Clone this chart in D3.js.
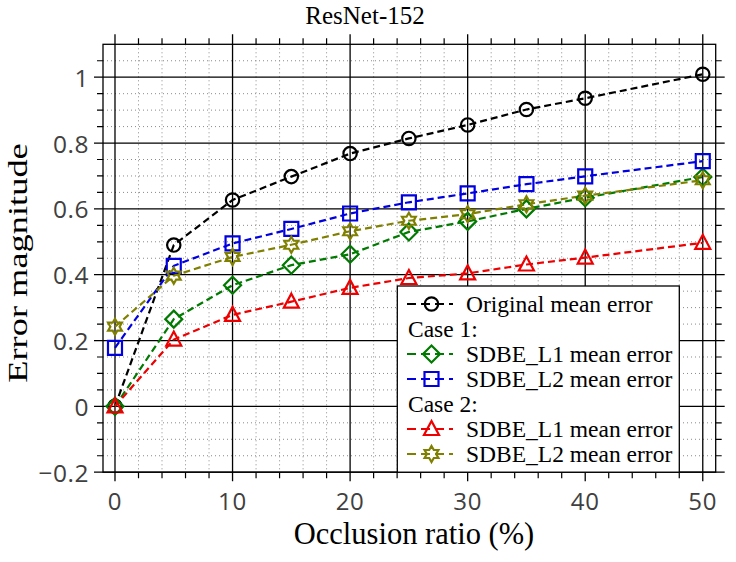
<!DOCTYPE html>
<html><head><meta charset="utf-8">
<script src="https://cdn.jsdelivr.net/npm/d3@7"></script>
<style>body{margin:0;background:#fff}svg{display:block}</style>
</head><body>
<svg id="c" width="736" height="562"></svg>
<script>
const xValues = [0, 5, 10, 15, 20, 25, 30, 35, 40, 50];
const originalMean = [0, 0.49, 0.627, 0.698, 0.768, 0.814, 0.855, 0.902, 0.936, 1.009];
const case1L1 = [0, 0.265, 0.368, 0.429, 0.462, 0.530, 0.562, 0.600, 0.634, 0.697];
const case1L2 = [0.178, 0.427, 0.495, 0.539, 0.586, 0.620, 0.647, 0.675, 0.699, 0.745];
const case2L1 = [0, 0.203, 0.278, 0.318, 0.360, 0.390, 0.404, 0.431, 0.452, 0.497];
const case2L2 = [0.242, 0.397, 0.454, 0.491, 0.532, 0.564, 0.584, 0.614, 0.640, 0.687];
const xTicks = [0, 10, 20, 30, 40, 50];
const yTicks = [-0.2, 0, 0.2, 0.4, 0.6, 0.8, 1];
const xMinor = [2,4,6,8,12,14,16,18,22,24,26,28,32,34,36,38,42,44,46,48];
const yMinor = [-0.15,-0.1,-0.05,0.05,0.1,0.15,0.25,0.3,0.35,0.45,0.5,0.55,0.65,0.7,0.75,0.85,0.9,0.95,1.05];

const series = [
  {name: "Original mean error", values: originalMean, color: "#000000", marker: "circle"},
  {name: "SDBE_L1 mean error", values: case1L1, color: "#007a00", marker: "diamond"},
  {name: "SDBE_L2 mean error", values: case1L2, color: "#0000e0", marker: "square"},
  {name: "SDBE_L1 mean error", values: case2L1, color: "#ee0000", marker: "triangle"},
  {name: "SDBE_L2 mean error", values: case2L2, color: "#808000", marker: "hexagram"}
];
const legendRows = [
  {series: 0}, {label: "Case 1:"}, {series: 1}, {series: 2}, {label: "Case 2:"}, {series: 3}, {series: 4}
];

const svg = d3.select("#c");
const L = 103, R = 715.7, T = 44.3, B = 472.2;
const x = d3.scaleLinear().domain([-1.02, 51.1]).range([L, R]);
const y = d3.scaleLinear().domain([-0.2, 1.1]).range([B, T]);

const serif = "'Liberation Serif', 'Times New Roman', serif";
const sans = "'Open Sans', 'DejaVu Sans', sans-serif";

// minor dotted grid
const g = svg.append("g");
g.selectAll(".vmin").data(xMinor).enter().append("line")
  .attr("x1", d => x(d)).attr("x2", d => x(d)).attr("y1", T).attr("y2", B)
  .attr("stroke", "#8a8a8a").attr("stroke-width", 1).attr("stroke-dasharray", "1,3");
g.selectAll(".hmin").data(yMinor).enter().append("line")
  .attr("y1", d => y(d)).attr("y2", d => y(d)).attr("x1", L).attr("x2", R)
  .attr("stroke", "#8a8a8a").attr("stroke-width", 1).attr("stroke-dasharray", "1,3");
// minor ticks outside
g.selectAll(".vmt").data(xMinor).enter().append("path")
  .attr("d", d => `M${x(d)},${T}v-6M${x(d)},${B}v6`).attr("stroke", "#000").attr("stroke-width", 1.2);
g.selectAll(".hmt").data(yMinor).enter().append("path")
  .attr("d", d => `M${L},${y(d)}h-6M${R},${y(d)}h6`).attr("stroke", "#000").attr("stroke-width", 1.2);
// major grid lines extending past the frame
g.selectAll(".vmaj").data(xTicks).enter().append("line")
  .attr("x1", d => x(d)).attr("x2", d => x(d)).attr("y1", T - 10).attr("y2", B + 9)
  .attr("stroke", "#000").attr("stroke-width", 1.3);
g.selectAll(".hmaj").data(yTicks).enter().append("line")
  .attr("y1", d => y(d)).attr("y2", d => y(d)).attr("x1", L - 9).attr("x2", R + 9)
  .attr("stroke", "#000").attr("stroke-width", 1.3);
// frame
svg.append("rect").attr("x", L).attr("y", T).attr("width", R - L).attr("height", B - T)
  .attr("fill", "none").attr("stroke", "#000").attr("stroke-width", 1.3);

// tick labels
svg.selectAll(".xl").data(xTicks).enter().append("text")
  .attr("x", d => x(d)).attr("y", 510).attr("text-anchor", "middle")
  .attr("font-family", sans).attr("font-size", 24).attr("letter-spacing", 0.7).attr("fill", "#404040")
  .text(d => d);
svg.selectAll(".yl").data(yTicks).enter().append("text")
  .attr("x", 89).attr("y", d => y(d) + 9.5).attr("text-anchor", "end")
  .attr("font-family", sans).attr("font-size", 24.5).attr("letter-spacing", 0.5).attr("fill", "#404040")
  .text(d => d < 0 ? "\u2212" + Math.abs(d) : d);

// titles
svg.append("text").attr("x", 365).attr("y", 23.5).attr("text-anchor", "middle")
  .attr("font-family", serif).attr("font-size", 25).text("ResNet-152");
svg.append("text").attr("x", 414).attr("y", 544).attr("text-anchor", "middle")
  .attr("font-family", serif).attr("font-size", 30.5).text("Occlusion ratio (%)");
svg.append("text").attr("transform", "translate(27,263) rotate(-90) scale(1.3,1)").attr("text-anchor", "middle")
  .attr("font-family", serif).attr("font-size", 28).text("Error magnitude");

// markers
function markerPath(type) {
  if (type === "circle") return d3.symbol(d3.symbolCircle, 140)();
  if (type === "square") return "M-7,-7H7V7H-7Z";
  if (type === "diamond") return "M0,-8.5L8.5,0L0,8.5L-8.5,0Z";
  if (type === "triangle") return "M0,-8L7.5,6H-7.5Z";
  if (type === "hexagram") {
    const pts = [];
    for (let i = 0; i < 12; i++) {
      const a = -Math.PI / 2 + i * Math.PI / 6;
      const r = i % 2 === 0 ? 8 : 8 / Math.sqrt(3);
      pts.push([r * Math.cos(a), r * Math.sin(a)]);
    }
    return "M" + pts.map(p => p.join(",")).join("L") + "Z";
  }
}

const line = d3.line().x((d, i) => x(xValues[i])).y(d => y(d));
const plot = svg.append("g");
series.forEach(s => {
  plot.append("path").attr("d", line(s.values)).attr("fill", "none")
    .attr("stroke", s.color).attr("stroke-width", 2.2).attr("stroke-dasharray", "7,4");
});
series.forEach(s => {
  plot.selectAll(null).data(s.values).enter().append("path")
    .attr("transform", (d, i) => `translate(${x(xValues[i])},${y(d)})`)
    .attr("d", markerPath(s.marker)).attr("fill", "none")
    .attr("stroke", s.color).attr("stroke-width", 2.2);
});

// legend
const lg = svg.append("g");
lg.append("rect").attr("x", 397.3).attr("y", 286).attr("width", 282).attr("height", B - 286)
  .attr("fill", "#fff").attr("stroke", "#000").attr("stroke-width", 1.3);
legendRows.forEach((row, i) => {
  const cy = 304 + i * 25;
  if (row.label) {
    lg.append("text").attr("x", 408).attr("y", cy + 7.5).attr("font-family", serif)
      .attr("font-size", 23.5).text(row.label);
  } else {
    const s = series[row.series];
    lg.append("line").attr("x1", 407).attr("x2", 453).attr("y1", cy).attr("y2", cy)
      .attr("stroke", s.color).attr("stroke-width", 2.2).attr("stroke-dasharray", "9,5");
    lg.append("path").attr("transform", `translate(431.5,${cy})`).attr("d", markerPath(s.marker))
      .attr("fill", "none").attr("stroke", s.color).attr("stroke-width", 2.2);
    lg.append("text").attr("x", 466).attr("y", cy + 7.5).attr("font-family", serif)
      .attr("font-size", 23.5).text(s.name);
  }
});
</script>
</body></html>
